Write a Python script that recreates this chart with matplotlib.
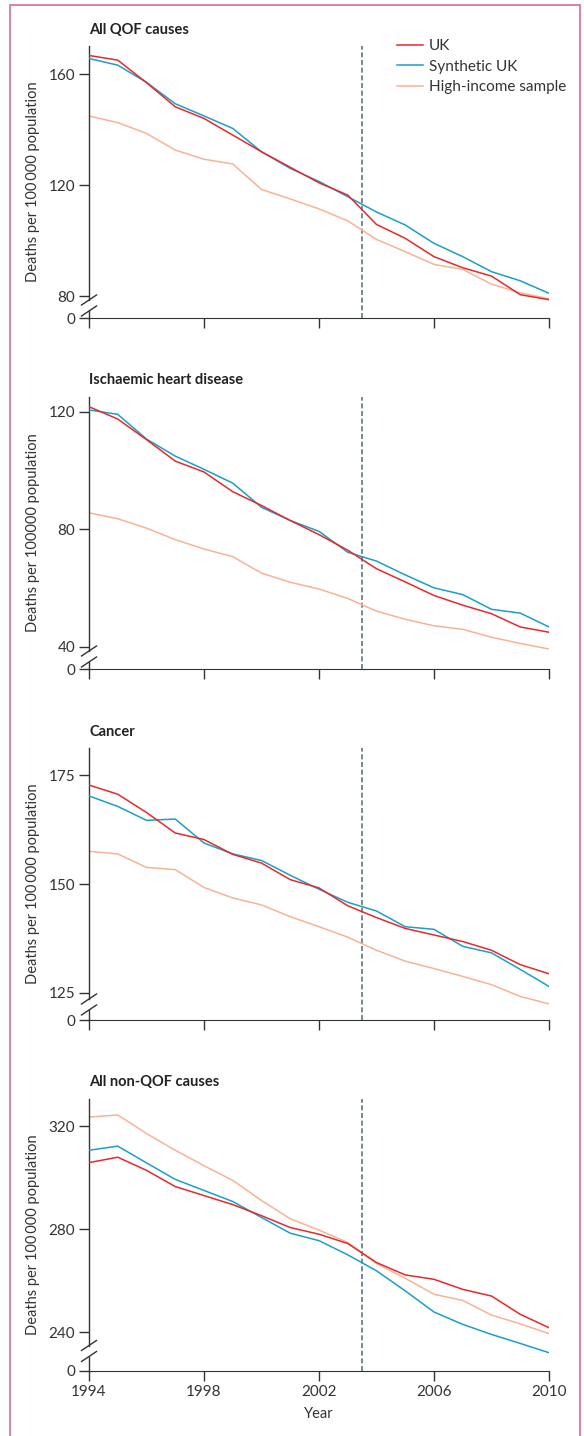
# Four stacked panels: UK vs synthetic UK vs high-income sample mortality, 1994-2010
import matplotlib.pyplot as plt
from matplotlib.patches import Rectangle

plt.rcParams['font.family'] = ['Lato', 'DejaVu Sans']

# ---- data ----
years = list(range(1994, 2011))

titles = ["All QOF causes", "Ischaemic heart disease", "Cancer", "All non-QOF causes"]
ylabels = ["Deaths per 100\u2009000 population", "Deaths per 100000 population",
           "Deaths per 100\u2009000 population", "Deaths per 100\u2009000 population"]

qof_uk = [166.7, 165.0, 156.9, 148.2, 144.0, 138.0, 132.0, 126.4, 120.8, 116.4,
          105.8, 100.8, 94.2, 90.2, 87.2, 80.5, 78.7]
qof_syn = [165.6, 163.2, 157.0, 149.3, 144.9, 140.4, 132.0, 126.0, 121.3, 115.8,
           110.3, 105.6, 99.0, 94.2, 88.8, 85.5, 81.0]
qof_hi = [144.9, 142.5, 138.6, 132.6, 129.3, 127.6, 118.4, 115.0, 111.4, 107.1,
          100.4, 96.0, 91.4, 89.6, 84.3, 81.2, 79.0]

ihd_uk = [121.7, 117.5, 110.5, 103.2, 99.5, 92.8, 88.1, 83.0, 78.2, 72.9,
          66.6, 62.1, 57.5, 54.2, 51.3, 46.8, 45.0]
ihd_syn = [120.6, 119.1, 110.7, 104.9, 100.4, 95.7, 87.5, 83.0, 79.3, 72.2,
           69.2, 64.5, 60.1, 57.8, 52.8, 51.5, 46.8]
ihd_hi = [85.6, 83.6, 80.4, 76.5, 73.3, 70.7, 65.1, 62.0, 59.7, 56.5,
          52.2, 49.4, 47.2, 46.0, 43.3, 41.2, 39.3]

can_uk = [172.7, 170.6, 166.4, 161.7, 160.2, 156.8, 154.8, 151.0, 149.1, 145.0,
          142.3, 139.8, 138.3, 136.8, 134.8, 131.5, 129.4]
can_syn = [170.2, 167.8, 164.6, 164.9, 159.4, 156.9, 155.4, 152.0, 148.8, 145.8,
           143.8, 140.2, 139.6, 135.7, 134.2, 130.4, 126.5]
can_hi = [157.5, 156.9, 153.8, 153.3, 149.2, 146.8, 145.2, 142.5, 140.2, 137.8,
          134.8, 132.3, 130.6, 128.8, 126.9, 124.2, 122.5]

non_uk = [305.8, 307.9, 302.8, 296.5, 293.0, 289.5, 285.2, 280.6, 278.0, 274.4,
          267.0, 262.2, 260.5, 256.6, 254.0, 246.9, 241.7]
non_syn = [310.6, 312.2, 305.7, 299.3, 295.0, 290.7, 284.5, 278.4, 275.5, 270.0,
           263.8, 256.0, 247.8, 243.0, 239.1, 235.6, 232.0]
non_hi = [323.5, 324.3, 317.1, 310.6, 304.6, 298.9, 291.1, 284.0, 279.6, 274.8,
          266.6, 260.9, 254.7, 252.3, 246.6, 243.2, 239.4]

uk_series = [qof_uk, ihd_uk, can_uk, non_uk]
syn_series = [qof_syn, ihd_syn, can_syn, non_syn]
hi_series = [qof_hi, ihd_hi, can_hi, non_hi]

yticks = [[80, 120, 160], [40, 80, 120], [125, 150, 175], [240, 280, 320]]
# axis ranges; the lower limit stands for the broken "0"
ylims = [(72.1, 170.1), (32.5, 125.0), (118.8, 181.2), (224.9, 330.5)]
# heights (px above the x axis) of the two break marks
breaks = [(7, 18), (7, 18), (10, 21), (14.5, 25.5)]

xticks = [1994, 1998, 2002, 2006, 2010]
qof_start = 2003.5

labels = ["UK", "Synthetic UK", "High-income sample"]
colors = ["#e8282b", "#1a9fc9", "#f7b394"]
axis_col = "#333333"

# ---- figure ----
W, H = 584, 1436
fig = plt.figure(figsize=(W / 100, H / 100), dpi=100)

ax_left, ax_w, ax_h = 89, 460, 272
tops = [46, 397, 748, 1099]

for i in range(4):
    ax = fig.add_axes([ax_left / W, 1 - (tops[i] + ax_h) / H, ax_w / W, ax_h / H])

    ax.plot(years, uk_series[i], color=colors[0], lw=1.1, label=labels[0], zorder=4)
    ax.plot(years, syn_series[i], color=colors[1], lw=1.1, label=labels[1], zorder=3)
    ax.plot(years, hi_series[i], color=colors[2], lw=1.1, label=labels[2], zorder=2)
    ax.axvline(qof_start, color="#5f7883", lw=1.2, ls=(0, (3, 1.6)), zorder=1)

    ax.set_xlim(1994, 2010)
    ax.set_ylim(*ylims[i])
    ax.set_xticks(xticks)
    ax.set_yticks([ylims[i][0]] + yticks[i])
    ax.set_yticklabels(["0"] + [str(t) for t in yticks[i]])
    if i == 3:
        ax.set_xticklabels([str(t) for t in xticks])
        ax.set_xlabel("Year", fontsize=10.5, color=axis_col, labelpad=6)
    else:
        ax.set_xticklabels([])

    ax.tick_params(direction="out", length=7, width=1, colors=axis_col,
                   labelsize=11, pad=3)
    for s in ["top", "right", "left"]:
        ax.spines[s].set_visible(False)
    ax.spines["bottom"].set_color(axis_col)

    # broken left axis drawn by hand in axes fractions
    lo, hi = breaks[i]
    kw = dict(transform=ax.transAxes, color=axis_col, lw=1, clip_on=False)
    ax.plot([0, 0], [0, lo / ax_h], **kw)
    ax.plot([0, 0], [hi / ax_h, 1], **kw)
    for b in (lo, hi):
        ax.plot([-7.5 / ax_w, 7.5 / ax_w], [(b - 5) / ax_h, (b + 5) / ax_h], **kw)

    ax.set_ylabel(ylabels[i], fontsize=10.5, color=axis_col)
    ax.yaxis.set_label_coords(-0.107, 0.5)

    ax.text(0, 1 + 16.5 / ax_h, titles[i], transform=ax.transAxes, ha="left",
            va="center", fontsize=10.5, fontweight="bold", color="#222222")

    if i == 0:
        ax.legend(loc="upper left", bbox_to_anchor=(0.6696, 1.025), frameon=False,
                  fontsize=11, handlelength=1.7, handletextpad=0.4,
                  labelspacing=0.42, borderpad=0, borderaxespad=0,
                  labelcolor=axis_col)

# pink frame round the figure
fig.patches.append(Rectangle((10 / W, -0.01), 570 / W, 1.01 - 5 / H,
                             transform=fig.transFigure, fill=False,
                             edgecolor="#d67a95", lw=1.3))

fig.savefig("out.png", dpi=100)
